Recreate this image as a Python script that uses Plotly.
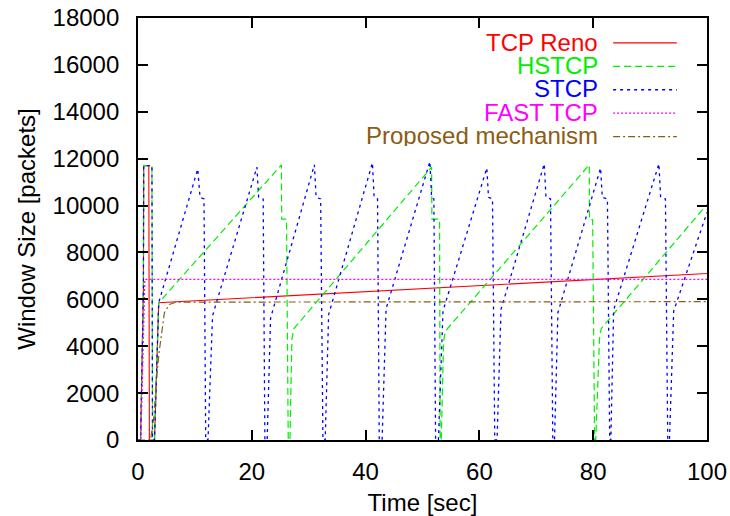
import plotly.graph_objects as go

# Congestion window traces (time in seconds, window in packets)
reno_t = [0, 0.45, 0.95, 1.0, 1.9, 2.0, 2.9, 3.64, 100]
reno_w = [0, 0, 6400, 11700, 11700, 0, 0, 5855, 7100]

hstcp_t = [0, 0.45, 0.95, 1.0, 2.45, 2.55, 2.9, 3.64,
           25.2, 25.25, 26.1, 26.4, 26.7, 27.05, 27.4,
           51.6, 51.65, 53.0, 53.1, 53.3, 53.7, 54.0,
           79.3, 79.35, 79.9, 80.25, 80.45, 81.1, 81.4,
           100]
hstcp_w = [0, 0, 6400, 11700, 11700, 0, 0, 5855,
           11735, 9420, 9420, 0, 0, 4300, 4750,
           11640, 9420, 9420, 0, 0, 4200, 4640,
           11735, 9400, 9400, 0, 0, 4300, 4750,
           10050]

stcp_t = [0, 0.45, 0.95, 1.0, 2.45, 2.55, 2.9, 3.64,
          10.5, 10.9, 11.6, 11.9, 12.3, 13.1,
          20.9, 21.2, 22.0, 22.3, 22.7, 23.3,
          31.0, 31.3, 32.1, 32.5, 32.9, 33.5,
          41.2, 41.5, 42.1, 42.4, 42.9, 43.6,
          51.3, 51.6, 52.0, 52.3, 52.8, 53.6,
          61.3, 61.6, 62.3, 62.7, 63.1, 63.8,
          71.4, 71.7, 72.5, 72.9, 73.2, 73.8,
          81.3, 81.6, 82.5, 82.9, 83.1, 83.6,
          91.55, 91.85, 92.7, 93.1, 93.4, 94.15,
          100]
stcp_w = [0, 0, 6400, 11700, 11700, 0, 0, 5855,
          11560, 10350, 10280, 0, 0, 5300,
          11640, 10350, 10280, 0, 0, 5200,
          11740, 10350, 10280, 0, 0, 5350,
          11820, 10350, 10280, 0, 0, 5600,
          11877, 10350, 10280, 0, 0, 5500,
          11600, 10350, 10280, 0, 0, 5570,
          11780, 10350, 10280, 0, 0, 5430,
          11600, 10350, 10280, 0, 0, 5550,
          11780, 10350, 10280, 0, 0, 5500,
          9710]

fast_t = [0, 0.5, 1.2, 100]
fast_w = [0, 0, 6850, 6850]

prop_t = [0, 2.2, 2.8, 3.2, 3.7, 4.06, 4.64, 5.5, 6.7, 100]
prop_w = [0, 0, 1000, 2428, 3726, 4425, 5426, 5782, 5882, 5900]

names = ["TCP Reno", "HSTCP", "STCP", "FAST TCP", "Proposed mechanism"]
colors = ["#ff0000", "#00ee00", "#0000ff", "#ff00ff", "#8b5c12"]
dashes = ["solid", "7px,4px", "3px,4px", "2px,2px", "7px,3px,2px,3px"]
widths = [1.1, 1.2, 1.3, 1.3, 1.2]
series = [(reno_t, reno_w), (hstcp_t, hstcp_w), (stcp_t, stcp_w),
          (fast_t, fast_w), (prop_t, prop_w)]

FONT = "Liberation Sans, Arial, Helvetica, sans-serif"
FS = 24

fig = go.Figure()
for (t, w), name, c, d, lw in zip(series, names, colors, dashes, widths):
    fig.add_trace(go.Scatter(x=t, y=w, mode="lines", name=name,
                             line=dict(color=c, width=lw, dash=d),
                             showlegend=False))

# Key in the upper right: coloured label, sample line to its right
key_y0 = 0.944
key_step = 0.0555
for i, (name, c, d, lw) in enumerate(zip(names, colors, dashes, widths)):
    yy = key_y0 - i * key_step
    fig.add_annotation(x=0.811, y=yy, xref="paper", yref="paper",
                       text=name, showarrow=False, xanchor="right",
                       yanchor="middle", borderpad=0, height=22,
                       valign="middle",
                       font=dict(family=FONT, size=FS, color=c))
    fig.add_shape(type="line", xref="paper", yref="paper",
                  x0=0.835, x1=0.947, y0=yy - 0.003, y1=yy - 0.003,
                  line=dict(color=c, width=lw, dash=d))

axis_common = dict(showline=True, linecolor="black", linewidth=1.8,
                   mirror="ticks", ticks="inside", ticklen=10,
                   tickwidth=1.5, tickcolor="black", showgrid=False,
                   zeroline=False, tickformat="d", automargin=False,
                   tickfont=dict(family=FONT, size=FS, color="black"))

fig.update_layout(
    width=730, height=516,
    margin=dict(l=138, r=23, t=18, b=76),
    plot_bgcolor="white", paper_bgcolor="white",
    xaxis=dict(range=[0, 100], tickvals=[0, 20, 40, 60, 80, 100],
               ticklabelstandoff=9,
               title=dict(text="Time [sec]", standoff=10,
                          font=dict(family=FONT, size=FS, color="black")),
               **axis_common),
    yaxis=dict(range=[0, 18000],
               tickvals=[0, 2000, 4000, 6000, 8000, 10000, 12000, 14000,
                         16000, 18000],
               ticklabelstandoff=12,
               title=dict(text="Window Size [packets]", standoff=10,
                          font=dict(family=FONT, size=FS, color="black")),
               **axis_common),
)

fig.write_html("out.html")
